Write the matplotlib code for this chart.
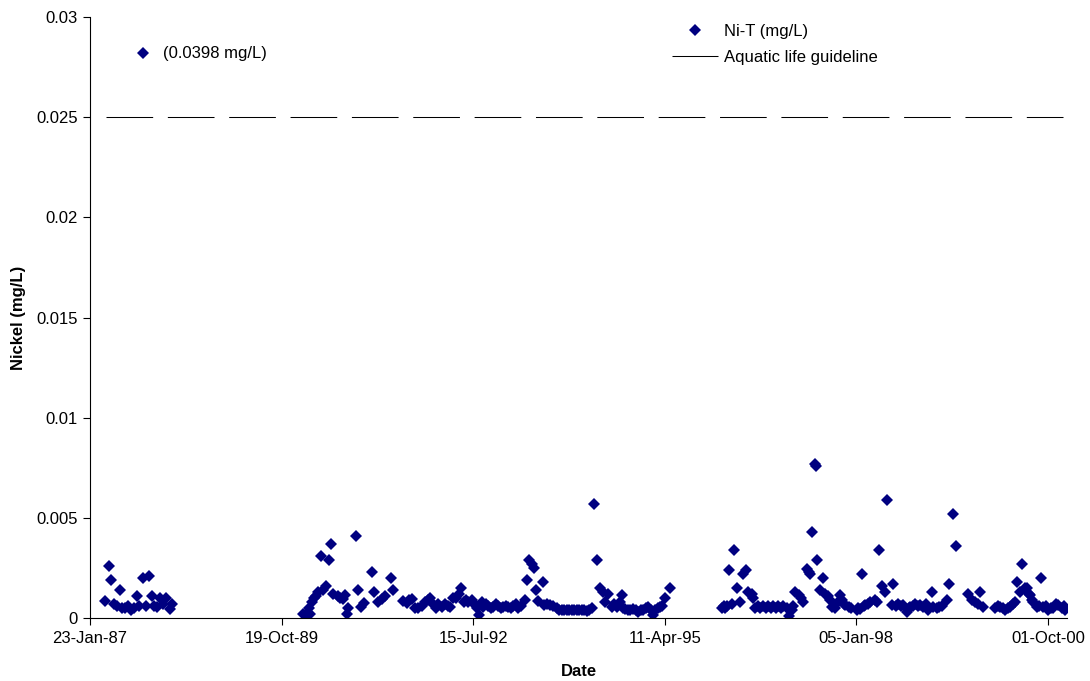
import datetime as dt
import matplotlib
matplotlib.use("Agg")
import matplotlib.pyplot as plt
import matplotlib.dates as mdates
from matplotlib.ticker import FixedLocator

plt.rcParams['font.family'] = ['Liberation Sans', 'DejaVu Sans']

# sample dates as Excel serial numbers (days since 1899-12-30)
sample_serial = [
    31878, 31897, 31912, 31925, 31941, 31954, 31967, 31983, 31998, 32014,
    32030, 32043, 32056, 32077, 32092, 32108, 32121, 32134, 32147, 32165,
    32181, 32199, 32218, 32228,
    32910, 32927, 32945, 32948, 32957, 32969, 32979, 32992, 33004, 33016,
    33032, 33048, 33060, 33070, 33093, 33105, 33122, 33131, 33140, 33148,
    33187, 33201, 33215, 33230, 33270, 33284, 33305, 33323, 33340, 33370,
    33383, 33435, 33453, 33465, 33479, 33497, 33514, 33531, 33549, 33564,
    33575, 33592, 33606, 33618, 33636, 33653, 33666, 33679, 33696, 33711,
    33724, 33735, 33752, 33762, 33775, 33792, 33810, 33820, 33832, 33845,
    33853, 33867, 33879, 33893, 33905, 33919, 33931, 33945, 33957, 33971,
    33984, 33998, 34010, 34024, 34036, 34050, 34071, 34083, 34093, 34106,
    34119, 34128, 34140, 34166, 34170, 34186, 34201, 34217, 34236, 34248,
    34262, 34274, 34288, 34300, 34314, 34326, 34340, 34352, 34367, 34379,
    34393, 34405, 34419, 34431, 34445, 34462, 34479, 34488, 34506, 34523,
    34535, 34549, 34567, 34575, 34582, 34593, 34608, 34619, 34636, 34650,
    34662, 34676, 34688, 34702, 34714, 34728, 34740, 34749, 34762, 34775,
    34788, 34802, 34828,
    35097, 35107, 35115, 35125, 35137, 35150, 35163, 35176, 35193, 35210,
    35224, 35236, 35254, 35259, 35271, 35284, 35297, 35315, 35329, 35341,
    35355, 35367, 35381, 35393, 35407, 35419, 35437, 35450, 35463, 35470,
    35481, 35498, 35510, 35523, 35541, 35553, 35559, 35567, 35582, 35587,
    35597, 35611, 35625, 35637, 35654, 35663, 35672, 35689, 35705, 35716,
    35724, 35734, 35741, 35759, 35772, 35802, 35811, 35819, 35828, 35838,
    35846, 35859, 35872, 35898, 35908, 35919, 35933, 35950, 35962, 35985,
    35993, 36007, 36019, 36033, 36045, 36063, 36073, 36080, 36093, 36107,
    36120, 36133, 36150, 36161, 36173, 36194, 36202, 36220, 36232, 36247,
    36272, 36284, 36306, 36319, 36385, 36404, 36420, 36435, 36446, 36463,
    36524, 36537, 36550, 36563, 36576, 36589, 36602, 36615, 36629, 36637,
    36655, 36667, 36678, 36690, 36699, 36707, 36715, 36724, 36742, 36751,
    36764, 36776, 36790, 36802, 36816, 36828, 36842, 36855, 36872, 36882,
    36890,
]

ni_total = [
    0.00086, 0.0026, 0.0019, 0.0007, 0.0006, 0.0014, 0.0005, 0.0005, 0.0006, 0.0004,
    0.0005, 0.0011, 0.0006, 0.0020, 0.0006, 0.0021, 0.0011, 0.0006, 0.00056, 0.0010,
    0.0007, 0.0010, 0.00045, 0.0007,
    0.00018, 0.00018, 0.0005, 0.00018, 0.0008, 0.0010, 0.0011, 0.0013, 0.0031, 0.0014,
    0.0016, 0.0029, 0.0037, 0.0012, 0.0011, 0.0010, 0.00095, 0.00115, 0.00018, 0.0005,
    0.0041, 0.0014, 0.00056, 0.00076, 0.0023, 0.0013, 0.0008, 0.00095, 0.0011, 0.0020,
    0.0014, 0.00085, 0.00076, 0.0009, 0.00095, 0.0005, 0.0005, 0.0006, 0.0008, 0.0009,
    0.0010, 0.0007, 0.0005, 0.0007, 0.00056, 0.0007, 0.0006, 0.00056, 0.0010, 0.0010,
    0.0012, 0.0015, 0.0008, 0.0009, 0.0008, 0.0009, 0.00065, 0.0005, 0.00015, 0.0008,
    0.00056, 0.0007, 0.0006, 0.0005, 0.00056, 0.0007, 0.0006, 0.0005, 0.00056, 0.0006,
    0.00056, 0.0005, 0.0006, 0.0007, 0.0005, 0.0006, 0.0009, 0.0019, 0.0029, 0.0027,
    0.0025, 0.0014, 0.00086, 0.0018, 0.00065, 0.0007, 0.00065, 0.0006, 0.0005, 0.0004,
    0.0004, 0.0004, 0.0004, 0.0004, 0.0004, 0.0004, 0.0004, 0.0004, 0.0004, 0.0004,
    0.00035, 0.0004, 0.0005, 0.0057, 0.0029, 0.0015, 0.0013, 0.0008, 0.0012, 0.00056,
    0.0007, 0.00056, 0.0008, 0.00115, 0.0005, 0.00045, 0.0004, 0.0004, 0.00045, 0.0004,
    0.00032, 0.0004, 0.0004, 0.0005, 0.00056, 0.0004, 0.00015, 0.0004, 0.0005, 0.00056,
    0.0006, 0.0010, 0.0015,
    0.0005, 0.0006, 0.0005, 0.0006, 0.0024, 0.0007, 0.0034, 0.0015, 0.0008, 0.0022,
    0.0024, 0.0013, 0.0012, 0.0010, 0.0005, 0.0006, 0.0005, 0.0006, 0.0005, 0.0006,
    0.0005, 0.0006, 0.0005, 0.0006, 0.0005, 0.0006, 0.0005, 0.0001, 0.0004, 0.0006,
    0.0013, 0.00115, 0.0010, 0.0008, 0.00245, 0.0023, 0.0022, 0.0043, 0.0077, 0.0076,
    0.0029, 0.0014, 0.0020, 0.0012, 0.0011, 0.0009, 0.00056, 0.0005, 0.0008, 0.00115,
    0.0009, 0.0007, 0.00065, 0.00056, 0.0005, 0.0004, 0.0005, 0.00045, 0.0022, 0.0006,
    0.00065, 0.0007, 0.0008, 0.0009, 0.0008, 0.0034, 0.0016, 0.0013, 0.0059, 0.00065,
    0.0017, 0.0006, 0.0007, 0.0006, 0.00065, 0.0003, 0.0005, 0.00056, 0.0006, 0.0007,
    0.0006, 0.00065, 0.00056, 0.0007, 0.0004, 0.0013, 0.00056, 0.0005, 0.00056, 0.0006,
    0.0009, 0.0017, 0.0052, 0.0036, 0.0012, 0.0009, 0.0008, 0.0007, 0.0013, 0.00056,
    0.0005, 0.0006, 0.00056, 0.0005, 0.0004, 0.0005, 0.00056, 0.0007, 0.0008, 0.0018,
    0.0013, 0.0027, 0.0015, 0.0015, 0.0012, 0.00115, 0.0009, 0.0008, 0.00056, 0.0006,
    0.0020, 0.00056, 0.0006, 0.0004, 0.0005, 0.0005, 0.0007, 0.00065, 0.0005, 0.0006,
    0.0004,
]

# off-scale result, flagged at the top of the plot
outlier_serial = 32077
outlier_value = 0.0398
outlier_marker_y = 0.0282

guideline = 0.025
guideline_span = [31884, 36879]

x_min, x_max, x_step = 31800, 36900, 1000
y_ticks = [0, 0.005, 0.01, 0.015, 0.02, 0.025, 0.03]
y_tick_labels = ["0", "0.005", "0.01", "0.015", "0.02", "0.025", "0.03"]

EXCEL_EPOCH = dt.datetime(1899, 12, 30)
FS = 12
MS = 6.3


def serial_to_num(s):
    return mdates.date2num(EXCEL_EPOCH + dt.timedelta(days=s))


dates = [serial_to_num(s) for s in sample_serial]

fig = plt.figure(figsize=(10.9, 6.81), dpi=100)
ax = fig.add_axes([0.0826, 0.0925, 0.8964, 0.8825])

navy = "#000080"
ax.plot(dates, ni_total, linestyle="none", marker="D", markersize=MS,
        color=navy, markeredgewidth=0, label="Ni-T (mg/L)")

ax.plot([serial_to_num(s) for s in guideline_span], [guideline, guideline],
        color="black", linewidth=0.75, dashes=(44.8, 14.1), label="Aquatic life guideline")

ax.plot([serial_to_num(outlier_serial)], [outlier_marker_y], linestyle="none",
        marker="D", markersize=MS, color=navy, markeredgewidth=0)
ax.annotate(f"({outlier_value} mg/L)", (serial_to_num(outlier_serial), outlier_marker_y),
            xytext=(14, 0), textcoords="offset points", va="center", fontsize=FS)

ax.set_xlim(serial_to_num(x_min), serial_to_num(x_max))
ax.set_ylim(0, 0.03)

xticks = [serial_to_num(s) for s in range(x_min, x_max, x_step)]
ax.xaxis.set_major_locator(FixedLocator(xticks))
ax.xaxis.set_major_formatter(mdates.DateFormatter("%d-%b-%y"))
ax.set_yticks(y_ticks)
ax.set_yticklabels(y_tick_labels)

ax.tick_params(axis="both", direction="out", length=5, width=0.8, labelsize=FS, pad=4)
for side in ("top", "right"):
    ax.spines[side].set_visible(False)
for side in ("left", "bottom"):
    ax.spines[side].set_linewidth(0.8)

ax.set_xlabel("Date", fontsize=FS, fontweight="bold", labelpad=13)
ax.set_ylabel("Nickel (mg/L)", fontsize=FS, fontweight="bold", labelpad=7)

# legend: solid sample line, since the handle is shorter than one dash
handles, labels = ax.get_legend_handles_labels()
leg = ax.legend(handles[:2], labels[:2], loc="upper left", bbox_to_anchor=(0.5957, 0.988),
                frameon=False, fontsize=FS, handlelength=2.75, handletextpad=0.35,
                labelspacing=0.65, borderaxespad=0, borderpad=0)

fig.savefig("out.png", dpi=100)
